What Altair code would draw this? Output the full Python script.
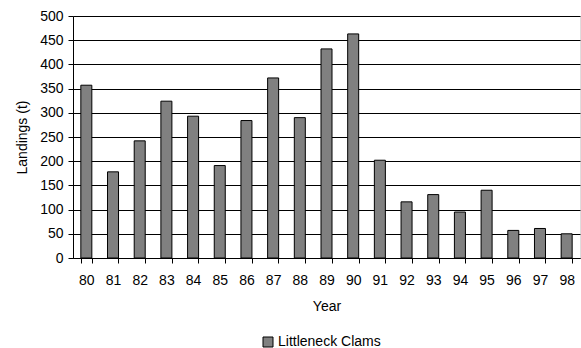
import altair as alt
import pandas as pd

years = ["80", "81", "82", "83", "84", "85", "86", "87", "88", "89",
         "90", "91", "92", "93", "94", "95", "96", "97", "98"]
landings = [357, 178, 242, 324, 293, 191, 284, 372, 290, 432,
            463, 202, 116, 131, 95, 140, 57, 61, 50]
series = "Littleneck Clams"

df = pd.DataFrame({"Year": years, "Landings": landings, "Series": [series] * len(years)})

font = "Liberation Sans"
fs = 14

chart = alt.Chart(df).mark_bar(
    fill="#808080", stroke="black", strokeWidth=1, width=11
).encode(
    x=alt.X("Year:N", sort=years, title="Year",
            scale=alt.Scale(paddingInner=0.6, paddingOuter=0.3),
            axis=alt.Axis(labelAngle=0, tickBand="extent", tickSize=5,
                          labelPadding=10, titlePadding=12, domainColor="black",
                          tickColor="black", labelColor="black", titleColor="black",
                          labelFontSize=fs, titleFontSize=fs, titleFontWeight="normal",
                          labelFont=font, titleFont=font, grid=False)),
    y=alt.Y("Landings:Q", title="Landings (t)",
            scale=alt.Scale(domain=[0, 500], nice=False),
            axis=alt.Axis(values=list(range(0, 501, 50)), tickSize=5, labelPadding=5,
                          titlePadding=10, domainColor="black", tickColor="black",
                          labelColor="black", titleColor="black", gridColor="black",
                          gridOpacity=1, gridWidth=1,
                          labelFontSize=fs, titleFontSize=fs, titleFontWeight="normal",
                          labelFont=font, titleFont=font)),
    fill=alt.Fill("Series:N", scale=alt.Scale(domain=[series], range=["#808080"]),
                  legend=alt.Legend(title=None, orient="none", legendX=188, legendY=319,
                                    symbolType="square", symbolSize=100,
                                    symbolStrokeColor="black", symbolStrokeWidth=1,
                                    symbolFillColor="#808080",
                                    labelFontSize=fs, labelFont=font, labelColor="black",
                                    labelOffset=3, padding=0)),
).properties(
    width=507, height=242,
    autosize=alt.AutoSizeParams(type="none"),
    padding={"left": 73, "top": 16, "right": 1, "bottom": 90},
).configure_view(
    stroke="black", strokeWidth=1
).configure(background="white")

chart.save("out.html", embed_options={"renderer": "svg", "actions": False})
